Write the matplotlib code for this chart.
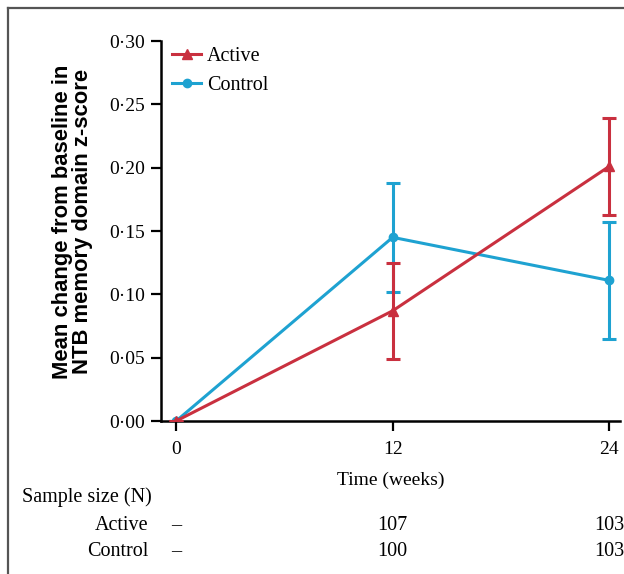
import matplotlib
matplotlib.use("Agg")
import matplotlib.pyplot as plt
from matplotlib.lines import Line2D
import matplotlib.transforms as mtransforms

plt.rcParams['font.family'] = ['Liberation Serif', 'DejaVu Serif']

# data
weeks = [0, 12, 24]
active_mean = [0.0, 0.087, 0.201]
active_err = [0.0, 0.038, 0.038]
control_mean = [0.0, 0.145, 0.111]
control_err = [0.0, 0.043, 0.046]
yticks = [0.0, 0.05, 0.10, 0.15, 0.20, 0.25, 0.30]
ytick_labels = ['0·00', '0·05', '0·10', '0·15', '0·20', '0·25', '0·30']
n_groups = ['Active', 'Control']
n_active = ['–', '107', '103']
n_control = ['–', '100', '103']

red = '#c9303f'
blue = '#1ea2d1'

W, H = 624, 574
fig = plt.figure(figsize=(W / 100, H / 100), dpi=100)
ax = fig.add_axes([161 / W, 1 - 421 / H, (620 - 161) / W, (421 - 41) / H])

ax.errorbar(weeks, active_mean, yerr=active_err, color=red, marker='^',
            markersize=7, lw=2.2, elinewidth=2.2, capsize=5, capthick=2.2,
            zorder=3)
ax.errorbar(weeks, control_mean, yerr=control_err, color=blue, marker='o',
            markersize=6, lw=2.2, elinewidth=2.2, capsize=5, capthick=2.2,
            zorder=2)

ax.set_xlim(-0.84, 24.6)
ax.set_ylim(0, 0.30)
ax.set_xticks(weeks)
ax.set_yticks(yticks)
ax.set_yticklabels(ytick_labels)
ax.tick_params(labelsize=14, length=7.5, width=1.6, direction='out')
ax.tick_params(axis='x', pad=7)
ax.tick_params(axis='y', pad=4)
for s in ['top', 'right']:
    ax.spines[s].set_visible(False)
for s in ['left', 'bottom']:
    ax.spines[s].set_linewidth(1.8)

ax.set_xlabel('Time (weeks)', fontsize=14, labelpad=10)
ax.set_ylabel('Mean change from baseline in\nNTB memory domain z-score',
              fontsize=15.8, fontweight='bold', family='Liberation Sans',
              linespacing=0.95)
ax.yaxis.set_label_coords(-0.148, 0.525)

handles = [Line2D([], [], color=red, marker='^', markersize=7, lw=2.2),
           Line2D([], [], color=blue, marker='o', markersize=6, lw=2.2)]
ax.legend(handles, n_groups, loc='upper left', bbox_to_anchor=(0.024, 0.985),
          frameon=False, fontsize=14.5, handlelength=1.45, handletextpad=0.3,
          labelspacing=0.5, borderpad=0, borderaxespad=0)

# sample size table
fig.text(22 / W, 1 - 497 / H, 'Sample size (N)', fontsize=14.5, va='center', ha='left')
trans = mtransforms.blended_transform_factory(ax.transData, fig.transFigure)
for name, vals, ypix in [(n_groups[0], n_active, 526), (n_groups[1], n_control, 552)]:
    fig.text(148 / W, 1 - ypix / H, name, fontsize=14.5, va='center', ha='right')
    for x, v in zip(weeks, vals):
        ax.text(x, 1 - ypix / H, v, transform=trans, fontsize=14.5,
                va='center', ha='center', clip_on=False)

# frame border (left and top)
fig.add_artist(Line2D([8 / W, 8 / W], [0, 1 - 8 / H], transform=fig.transFigure,
                      color='#555555', lw=1.6))
fig.add_artist(Line2D([8 / W, 1], [1 - 8 / H, 1 - 8 / H], transform=fig.transFigure,
                      color='#555555', lw=1.6))

fig.savefig('out.png', dpi=100)
